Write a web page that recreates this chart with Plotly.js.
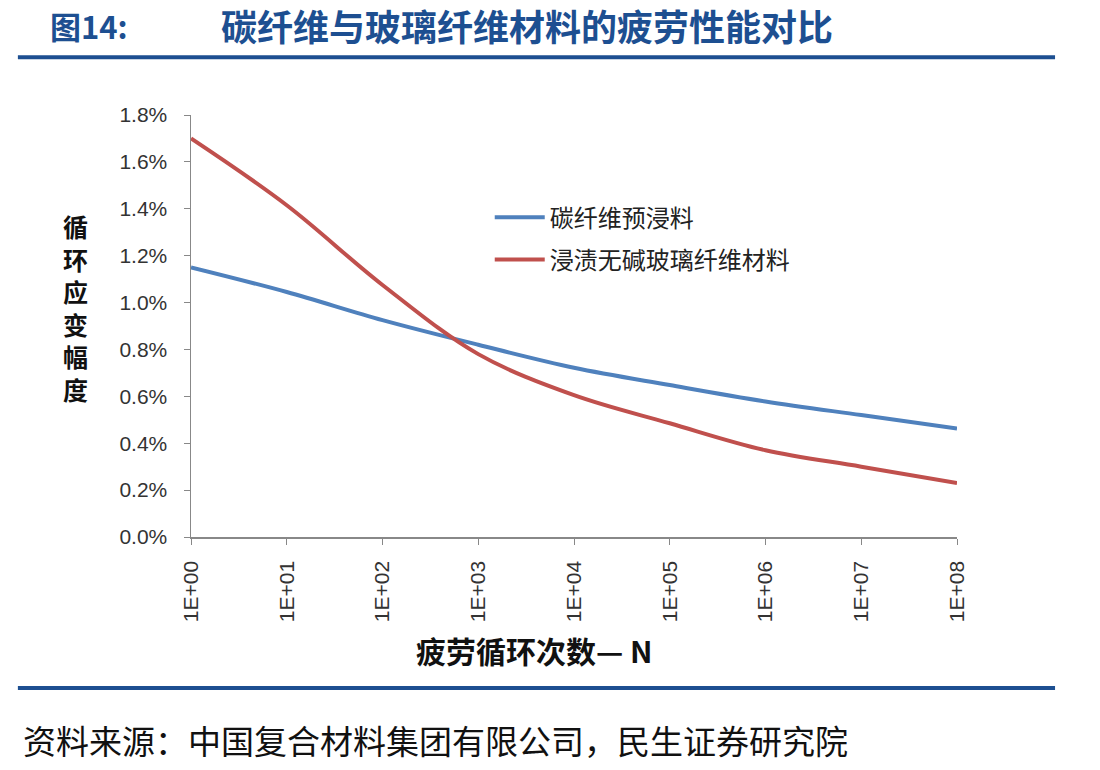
<!DOCTYPE html>
<html>
<head>
<meta charset="utf-8">
<script src="https://cdn.plot.ly/plotly-3.0.1.min.js"></script>
<style>
  body { margin: 0; background: #fff; }
  #chart { width: 1100px; height: 770px; }
</style>
</head>
<body>
<div id="chart"></div>
<script>
// 疲劳循环次数 N (log decades)
let cycleLabels = ['1E+00', '1E+01', '1E+02', '1E+03', '1E+04', '1E+05', '1E+06', '1E+07', '1E+08'];
// 循环应变幅度, as fractions
let carbonPrepreg = [0.0115, 0.01045, 0.00925, 0.0082, 0.00722, 0.00648, 0.00578, 0.0052, 0.00463];
let glassFiber = [0.0170, 0.01415, 0.01075, 0.0078, 0.00605, 0.00485, 0.0037, 0.0030, 0.0023];
let seriesNames = ['碳纤维预浸料', '浸渍无碱玻璃纤维材料'];
let yTicks = [0, 0.002, 0.004, 0.006, 0.008, 0.010, 0.012, 0.014, 0.016, 0.018];
let yTitle = '循环应变幅度';

let cjk = '"Noto Sans CJK SC", sans-serif';
let latin = '"Liberation Sans", Arial, sans-serif';
let navy = '#1d4f91';

let trace1 = {
  x: cycleLabels,
  y: carbonPrepreg,
  name: seriesNames[0],
  legendgroup: 'a',
  type: 'scatter',
  mode: 'lines',
  line: {color: '#4F81BD', width: 4, shape: 'spline', smoothing: 1},
};

let trace2 = {
  x: cycleLabels,
  y: glassFiber,
  name: seriesNames[1],
  legendgroup: 'b',
  type: 'scatter',
  mode: 'lines',
  line: {color: '#C0504D', width: 4, shape: 'spline', smoothing: 1},
};

let layout = {
  width: 1100,
  height: 770,
  paper_bgcolor: '#fff',
  plot_bgcolor: '#fff',
  margin: {l: 191, r: 143, t: 115, b: 233},
  showlegend: true,
  legend: {
    x: 0.39, y: 0.81, xanchor: 'left', yanchor: 'top',
    font: {family: cjk, size: 24, color: '#222'},
    itemwidth: 50,
    tracegroupgap: 8,
    bgcolor: 'rgba(0,0,0,0)',
  },
  xaxis: {
    type: 'category',
    range: [0, 8],
    showline: true, linecolor: '#888', linewidth: 1.5,
    ticks: 'outside', tickcolor: '#888', ticklen: 6,
    tickangle: -90,
    ticklabelstandoff: 8,
    tickfont: {family: latin, size: 21, color: '#333'},
    showgrid: false, zeroline: false,
    fixedrange: true,
  },
  yaxis: {
    range: [0, 0.018],
    tickvals: yTicks,
    tickformat: '.1%',
    showline: true, linecolor: '#888', linewidth: 1.5,
    ticks: 'outside', tickcolor: '#888', ticklen: 6,
    ticklabelstandoff: 12,
    tickfont: {family: latin, size: 21, color: '#333'},
    showgrid: false, zeroline: false,
    fixedrange: true,
  },
  shapes: [
    {type: 'line', xref: 'paper', yref: 'paper', x0: -0.226, x1: 1.128, y0: 1.137, y1: 1.137,
     line: {color: navy, width: 4}},
    {type: 'line', xref: 'paper', yref: 'paper', x0: -0.226, x1: 1.128, y0: -0.358, y1: -0.358,
     line: {color: navy, width: 4}},
  ],
  annotations: [
    {text: '<b>图14:</b>', xref: 'paper', yref: 'paper', x: -0.187, y: 1.213,
     xanchor: 'left', yanchor: 'middle', showarrow: false,
     font: {family: cjk, size: 31, color: navy}},
    {text: '<b>碳纤维与玻璃纤维材料的疲劳性能对比</b>', xref: 'paper', yref: 'paper', x: 0.036, y: 1.213,
     xanchor: 'left', yanchor: 'middle', showarrow: false,
     font: {family: cjk, size: 36, color: navy}},
    {text: '<b>' + yTitle.split('').join('<br>') + '</b>', xref: 'paper', yref: 'paper', x: -0.151, y: 0.545,
     xanchor: 'center', yanchor: 'middle', showarrow: false, align: 'center',
     font: {family: cjk, size: 25, color: '#111'}},
    {text: '<b>疲劳循环次数— N</b>', xref: 'paper', yref: 'paper', x: 0.448, y: -0.268,
     xanchor: 'center', yanchor: 'middle', showarrow: false,
     font: {family: cjk, size: 30, color: '#111'}},
    {text: '资料来源：中国复合材料集团有限公司，民生证券研究院', xref: 'paper', yref: 'paper', x: -0.222, y: -0.481,
     xanchor: 'left', yanchor: 'middle', showarrow: false,
     font: {family: cjk, size: 33, color: '#111'}},
  ],
};

Plotly.newPlot('chart', [trace1, trace2], layout, {displayModeBar: false, staticPlot: true});
</script>
</body>
</html>
